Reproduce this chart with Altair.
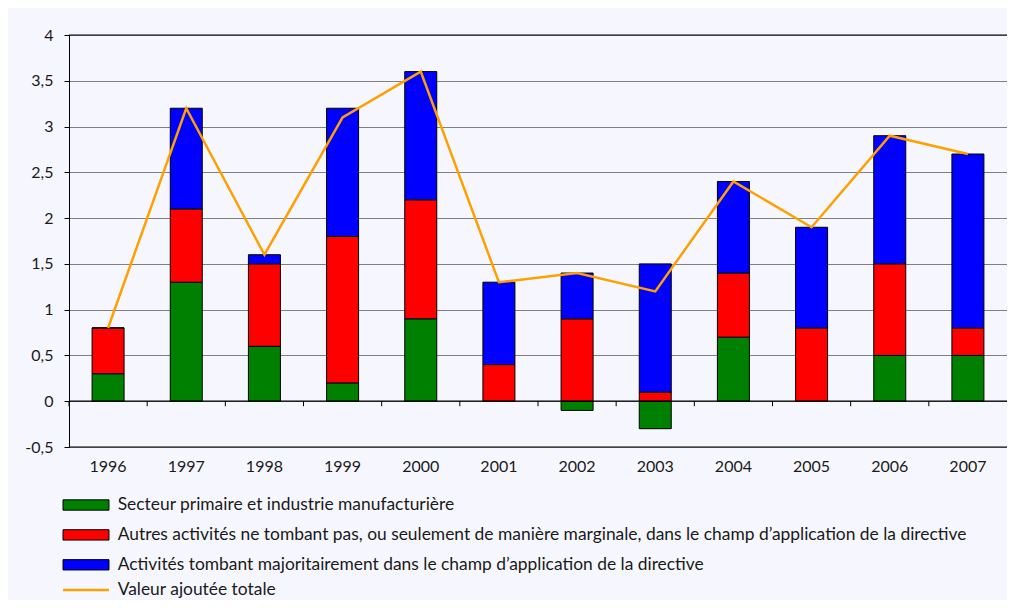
import altair as alt
import pandas as pd

years = ["1996", "1997", "1998", "1999", "2000", "2001", "2002", "2003", "2004", "2005", "2006", "2007"]
primaire = [0.3, 1.3, 0.6, 0.2, 0.9, 0.0, -0.1, -0.3, 0.7, 0.0, 0.5, 0.5]
autres = [0.5, 0.8, 0.9, 1.6, 1.3, 0.4, 0.9, 0.1, 0.7, 0.8, 1.0, 0.3]
directive = [0.0, 1.1, 0.1, 1.4, 1.4, 0.9, 0.5, 1.4, 1.0, 1.1, 1.4, 1.9]
total = [0.8, 3.2, 1.6, 3.1, 3.6, 1.3, 1.4, 1.2, 2.4, 1.9, 2.9, 2.7]

series = [
    "Secteur primaire et industrie manufacturière",
    "Autres activités ne tombant pas, ou seulement de manière marginale, dans le champ d’application de la directive",
    "Activités tombant majoritairement dans le champ d’application de la directive",
]
line_name = "Valeur ajoutée totale"
bar_colors = ["#008000", "#FF0000", "#0000FF"]
line_color = "#FFA000"
y_ticks = [-0.5, 0, 0.5, 1, 1.5, 2, 2.5, 3, 3.5, 4]
frame_lines = [-0.5, 0, 4]

rows = []
for i, y in enumerate(years):
    for k, vals in enumerate([primaire, autres, directive]):
        rows.append({"year": y, "series": series[k], "order": k, "value": vals[i]})
bars_df = pd.DataFrame(rows)
line_df = pd.DataFrame({"year": years, "total": total, "name": line_name})
frame_df = pd.DataFrame({"v": frame_lines})
tick_df = pd.DataFrame({"year": years})

FONT = "Lato"
FS = 16
LFS = 17.4
TXT = "#1a1a1a"

x_scale = alt.Scale(domain=years, paddingInner=0, paddingOuter=0)
y_scale = alt.Scale(domain=[-0.5, 4], nice=False, zero=False)

x_axis = alt.Axis(title=None, labelAngle=0, domain=False, ticks=False, grid=False,
                  labelPadding=11, labelFontSize=FS, labelFont=FONT, labelColor=TXT)
y_axis = alt.Axis(title=None, values=y_ticks, grid=True, gridColor="#808080", gridWidth=1,
                  domainColor="black", tickColor="black", tickSize=5, labelPadding=11,
                  labelFontSize=FS, labelFont=FONT, labelColor=TXT,
                  labelExpr="replace(toString(datum.value), '.', ',')")

bars = alt.Chart(bars_df).mark_bar(stroke="black", strokeWidth=1, size=32).encode(
    x=alt.X("year:N", scale=x_scale, axis=x_axis),
    y=alt.Y("value:Q", stack="zero", scale=y_scale, axis=y_axis),
    fill=alt.Fill("series:N", scale=alt.Scale(domain=series, range=bar_colors),
                  legend=alt.Legend(title=None, orient="none", legendX=8.3, legendY=461.3,
                                    padding=0, symbolType="M-4,-0.9H4V0.9H-4Z", symbolSize=132,
                                    symbolStrokeColor="black", symbolStrokeWidth=1,
                                    labelOffset=23, rowPadding=10.9, labelFontSize=LFS,
                                    labelFont=FONT, labelColor=TXT, labelLimit=2000)),
    order=alt.Order("order:Q"),
)

frame = alt.Chart(frame_df).mark_rule(color="black", strokeWidth=1.2).encode(y=alt.Y("v:Q", scale=y_scale))

ticks = alt.Chart(tick_df).mark_rule(color="black", strokeWidth=1).encode(
    x=alt.X("year:N", scale=x_scale, bandPosition=0),
    y=alt.datum(0),
    y2=alt.datum(-0.055),
)

line = alt.Chart(line_df).mark_line(strokeWidth=2.5).encode(
    x=alt.X("year:N", scale=x_scale),
    y=alt.Y("total:Q", scale=y_scale),
    stroke=alt.Stroke("name:N", scale=alt.Scale(domain=[line_name], range=[line_color]),
                      legend=alt.Legend(title=None, orient="none", legendX=8.3, legendY=546.3,
                                        padding=0, symbolType="M-4,0H4", symbolSize=132,
                                        symbolStrokeWidth=2.5, labelOffset=23, labelFontSize=LFS,
                                        labelFont=FONT, labelColor=TXT, labelLimit=2000)),
)

chart = alt.layer(bars, frame, ticks, line).properties(
    width=938, height=412,
    autosize=alt.AutoSizeParams(type="none"),
    padding={"left": 61, "top": 27, "right": 0, "bottom": 153},
    background="#F6F7FE",
).configure_view(stroke=None).resolve_scale(fill="independent", stroke="independent")

chart.save("out.html", embed_options={"renderer": "svg", "actions": False})
